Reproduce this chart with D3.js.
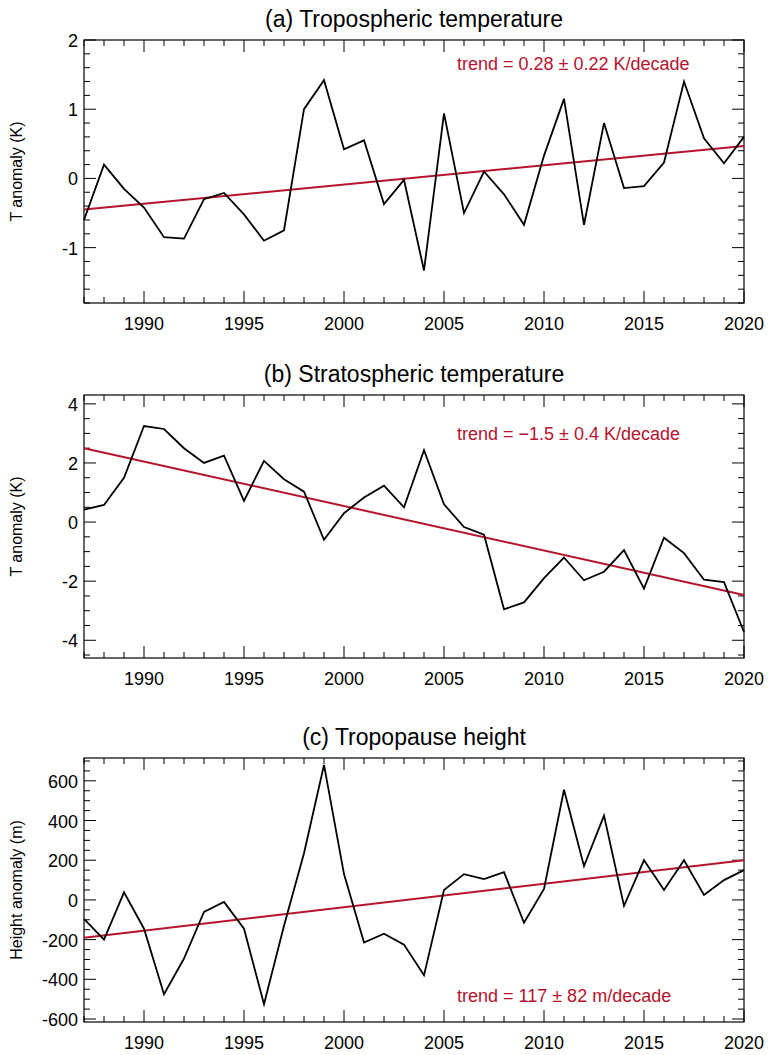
<!DOCTYPE html>
<html><head><meta charset="utf-8">
<script src="https://cdn.jsdelivr.net/npm/d3@7"></script>
<style>body{margin:0;background:#fff;} text{font-family:"Liberation Sans",Arial,sans-serif;}</style>
</head><body>
<svg id="chart" width="769" height="1055"></svg>
<script>
// DATA ------------------------------
const years = d3.range(1987, 2021);
const tropT = [-0.6,0.2,-0.15,-0.42,-0.85,-0.87,-0.3,-0.21,-0.52,-0.9,-0.75,1.0,1.42,0.42,0.55,-0.37,-0.02,-1.33,0.94,-0.5,0.1,-0.23,-0.67,0.33,1.15,-0.67,0.8,-0.14,-0.11,0.23,1.4,0.58,0.22,0.6];
const stratT = [0.42,0.58,1.5,3.25,3.15,2.5,2.0,2.25,0.72,2.07,1.45,1.03,-0.6,0.3,0.83,1.23,0.5,2.43,0.6,-0.17,-0.43,-2.95,-2.72,-1.9,-1.2,-1.97,-1.68,-0.95,-2.25,-0.53,-1.05,-1.95,-2.03,-3.72];
const tropH = [-95,-200,38,-145,-475,-295,-60,-10,-145,-525,-130,235,680,130,-215,-170,-225,-380,50,130,105,140,-115,55,555,170,425,-30,200,50,200,25,100,150];
const trendA = [-0.45, 0.47];
const trendB = [2.5, -2.47];
const trendC = [-190, 200];
const xTicks = [1990, 1995, 2000, 2005, 2010, 2015, 2020];

const panels = [
  {title:"(a) Tropospheric temperature", ylab:"T anomaly (K)", data:tropT, trend:trendA,
   top:40, bottom:303, dom:[-1.8,2], major:[-1,0,1,2], minor:0.2,
   trendText:"trend = 0.28 \u00b1 0.22 K/decade", ty:70},
  {title:"(b) Stratospheric temperature", ylab:"T anomaly (K)", data:stratT, trend:trendB,
   top:395, bottom:658, dom:[-4.6,4.3], major:[-4,-2,0,2,4], minor:0.5,
   trendText:"trend = \u22121.5 \u00b1 0.4 K/decade", ty:440},
  {title:"(c) Tropopause height", ylab:"Height anomaly (m)", data:tropH, trend:trendC,
   top:758, bottom:1022, dom:[-615,715], major:[-600,-400,-200,0,200,400,600], minor:50,
   trendText:"trend = 117 \u00b1 82 m/decade", ty:1002}
];

const svg = d3.select("#chart");
const left = 84, right = 744;
const x = d3.scaleLinear().domain([1987, 2020]).range([left, right]);
const red = "#b5132e";

panels.forEach(p => {
  const y = d3.scaleLinear().domain(p.dom).range([p.bottom, p.top]);
  const g = svg.append("g");

  // minor + major ticks on all four sides
  const yMinor = d3.range(Math.ceil(p.dom[0]/p.minor)*p.minor, p.dom[1]+1e-9, p.minor);
  yMinor.forEach(v => {
    const isMajor = p.major.some(m => Math.abs(m - v) < 1e-6);
    const len = isMajor ? 12 : 6;
    g.append("line").attr("x1", left).attr("x2", left+len).attr("y1", y(v)).attr("y2", y(v)).attr("stroke","#000");
    g.append("line").attr("x1", right).attr("x2", right-len).attr("y1", y(v)).attr("y2", y(v)).attr("stroke","#000");
  });
  years.forEach(v => {
    const len = v % 5 === 0 ? 12 : 6;
    g.append("line").attr("x1", x(v)).attr("x2", x(v)).attr("y1", p.bottom).attr("y2", p.bottom-len).attr("stroke","#000");
    g.append("line").attr("x1", x(v)).attr("x2", x(v)).attr("y1", p.top).attr("y2", p.top+len).attr("stroke","#000");
  });

  g.append("rect").attr("x", left).attr("y", p.top).attr("width", right-left).attr("height", p.bottom-p.top)
    .attr("fill","none").attr("stroke","#000").attr("stroke-width",1.2);

  // tick labels
  g.selectAll(".yl").data(p.major).join("text")
    .attr("x", left-6).attr("y", d => y(d)+7).attr("text-anchor","end").attr("font-size",18)
    .text(d => d < 0 ? "-" + Math.abs(d) : d);
  g.selectAll(".xl").data(xTicks).join("text")
    .attr("x", d => x(d)).attr("y", p.bottom+27).attr("text-anchor","middle").attr("font-size",18)
    .text(d => d);

  g.append("text").attr("x", 414).attr("y", p.top-13).attr("text-anchor","middle").attr("font-size",23).text(p.title);
  g.append("text").attr("transform", `translate(22,${(p.top+p.bottom)/2}) rotate(-90)`)
    .attr("text-anchor","middle").attr("font-size",16).text(p.ylab);

  // trend line
  g.append("line").attr("x1", x(1987)).attr("x2", x(2020))
    .attr("y1", y(p.trend[0])).attr("y2", y(p.trend[1])).attr("stroke", red).attr("stroke-width",2);

  const line = d3.line().x((d,i) => x(years[i])).y(d => y(d));
  g.append("path").datum(p.data).attr("d", line).attr("fill","none").attr("stroke","#000").attr("stroke-width",1.8);

  g.append("text").attr("x", 457).attr("y", p.ty).attr("font-size",18).attr("fill", red).text(p.trendText);
});
</script>
</body></html>
